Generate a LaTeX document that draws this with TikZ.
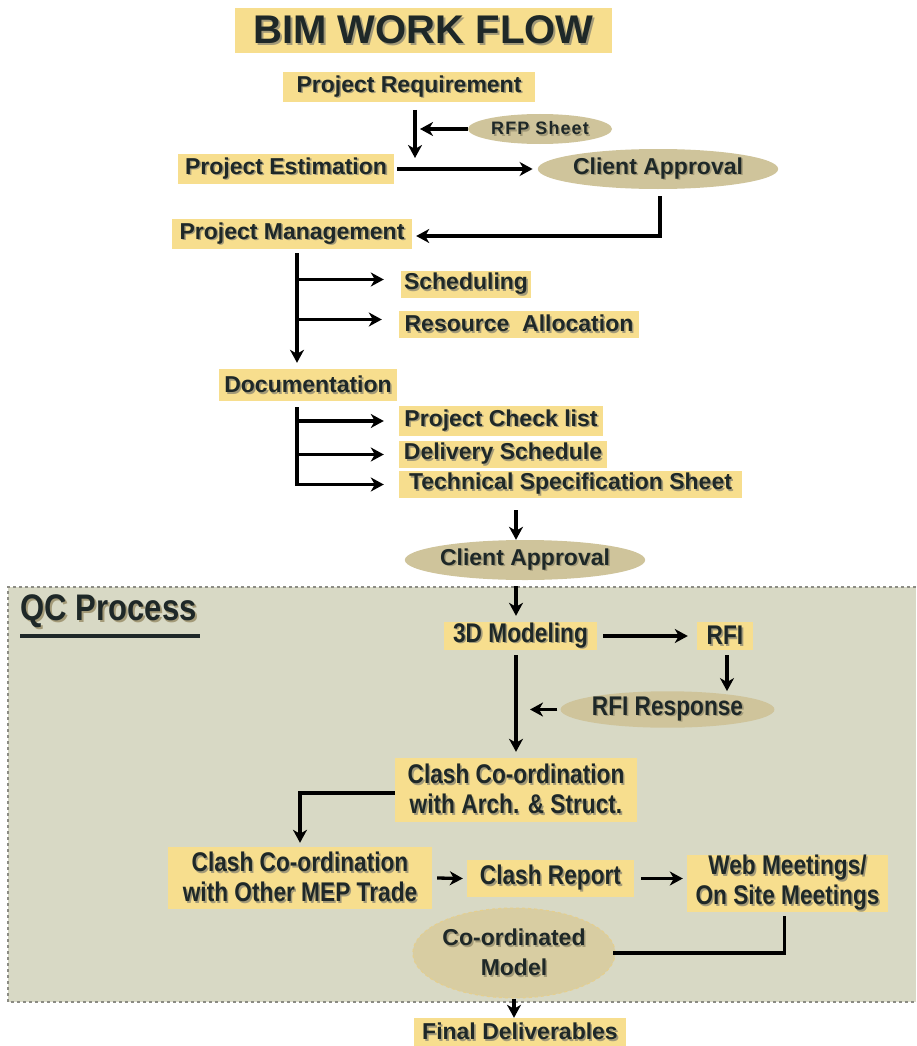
\documentclass[tikz,border=0pt]{standalone}
\usepackage{fontspec}
\setmainfont{Liberation Sans}
\newfontfamily\narrowfont[FakeStretch=0.84]{Liberation Sans}
\usetikzlibrary{shapes.geometric,arrows.meta}
\definecolor{yel}{HTML}{F7DE8E}
\definecolor{tanc}{HTML}{CFC49B}
\definecolor{tanl}{HTML}{D8CDA2}
\definecolor{tanb}{HTML}{E6CF8C}
\definecolor{qcbg}{HTML}{D8D9C5}
\definecolor{txt}{HTML}{1E2828}
\definecolor{shc}{HTML}{A39A78}
\definecolor{dashc}{HTML}{8C8C84}
\newcommand\shd[1]{\rlap{\kern1.6pt\raisebox{-1.6pt}{\color{shc}#1}}#1}
\tikzset{
  box/.style={fill=yel, text=txt, inner sep=0pt, align=center},
  oval/.style={ellipse, fill=tanc, text=txt, inner sep=0pt, align=center},
  f23/.style={font=\fontsize{23}{30}\selectfont\bfseries},
  nar/.style={font=\narrowfont\fontsize{27}{30}\selectfont\bfseries},
  arr/.style={line width=3.3pt, -{Stealth[length=13pt,width=14pt,inset=4pt]}},
  ln/.style={line width=3.3pt},
}
\begin{document}
\begin{tikzpicture}[x=1pt,y=-1pt]
\useasboundingbox (0,0) rectangle (916,1046);
% QC background
\fill[qcbg] (8,587) rectangle (916,1002);
\draw[dashc, dashed, line width=1.5pt] (916,587) -- (8,587) -- (8,1002) -- (916,1002);
\node[anchor=west, text=txt, font=\narrowfont\fontsize{37}{40}\selectfont\bfseries] (qct) at (17,612) {\shd{QC Process}};
\draw[txt, line width=3.5pt] (20,636) -- (200,636);

% upper part
\node[box, minimum width=377pt, minimum height=45pt, font=\fontsize{40}{44}\selectfont\bfseries] (title) at (423.5,30.5) {\shd{BIM WORK FLOW}};
\node[box, f23, minimum width=252pt, minimum height=30pt] (req) at (409,87) {\shd{Project Requirement}};
\node[oval, minimum width=144pt, minimum height=30pt, font=\fontsize{18}{21}\selectfont\bfseries\addfontfeatures{LetterSpace=6}] (rfp) at (540,129) {\shd{RFP Sheet}};
\node[box, f23, minimum width=216pt, minimum height=30pt] (est) at (286,169) {\shd{Project Estimation}};
\node[oval, f23, minimum width=230pt, minimum height=40pt] (ca1) at (658,169) {\shd{Client Approval}};
\node[box, f23, minimum width=240pt, minimum height=30pt] (pm) at (292,234) {\shd{Project Management}};
\node[box, f23, minimum width=130pt, minimum height=27pt] (sch) at (466,284.5) {\shd{Scheduling}};
\node[box, f23, minimum width=240pt, minimum height=27pt] (res) at (519,324.5) {\shd{Resource\ \ Allocation}};
\node[box, f23, minimum width=178pt, minimum height=32pt] (doc) at (308,385) {\shd{Documentation}};
\node[box, f23, minimum width=204pt, minimum height=30pt] (chk) at (501,421) {\shd{Project Check list}};
\node[box, f23, minimum width=208pt, minimum height=27pt] (del) at (503,454.5) {\shd{Delivery Schedule}};
\node[box, f23, minimum width=343pt, minimum height=27pt] (tech) at (570.5,484.5) {\shd{Technical Specification Sheet}};
\node[oval, f23, minimum width=230pt, minimum height=40pt] (ca2) at (525,560) {\shd{Client Approval}};

\coordinate (a1) at (415,110);
\coordinate (a2) at (415,158);
\draw[arr] (a1) -- (a2);
\draw[arr] (rfp.west) -- ([xshift=5pt]a1 |- rfp.west);
\draw[arr] ([xshift=3pt]est.east) -- ([xshift=-5pt]est.east -| ca1.west);
\draw[arr] ([xshift=2pt,yshift=-7pt]ca1.south) |- ([xshift=4pt,yshift=-2pt]pm.east);

\coordinate (pmd) at (297,253);
\draw[arr] (pmd) -- ([yshift=6pt]doc.north -| pmd);
\draw[arr] ([yshift=5pt]pmd |- sch.west) -- ([xshift=-17pt,yshift=5pt]sch.west);
\draw[arr] ([yshift=5pt]pmd |- res.west) -- ([xshift=-17pt,yshift=5pt]res.west);

\coordinate (dd) at (297,407);
\draw[arr] (dd) |- ([xshift=-15pt]tech.west);
\draw[arr] (dd |- chk.west) -- ([xshift=-15pt]chk.west);
\draw[arr] (dd |- del.west) -- ([xshift=-15pt]del.west);

\coordinate (t1) at (516,510);
\draw[arr] (t1) -- (t1 |- ca2.north);

% QC part
\node[box, nar, minimum width=153pt, minimum height=28pt] (m3d) at (520.5,636) {\shd{3D Modeling}};
\node[box, nar, minimum width=56pt, minimum height=28pt] (rfi) at (725,636) {\shd{RFI}};
\node[oval, nar, minimum width=189pt, minimum height=35pt] (rfir) at (667.5,709.5) {\shd{RFI Response}};
\node[box, nar, minimum width=242pt, minimum height=64pt] (cc1) at (516,790) {\shd{Clash Co-ordination}\\\shd{with Arch. \& Struct.}};
\node[box, nar, minimum width=264pt, minimum height=62pt] (cc2) at (300,878) {\shd{Clash Co-ordination}\\\shd{with Other MEP Trade}};
\node[box, nar, minimum width=167pt, minimum height=37pt] (crep) at (550.5,878.5) {\shd{Clash Report}};
\node[box, nar, minimum width=201pt, minimum height=57pt] (web) at (787.5,883.5) {\shd{Web Meetings/}\\\shd{On Site Meetings}};
\node[oval, f23, fill=tanl, draw=tanb, dashed, line width=1pt, minimum width=186pt, minimum height=90pt] (com) at (514,953) {\shd{Co-ordinated}\\\shd{Model}};
\node[box, f23, minimum width=212pt, minimum height=28pt] (fin) at (520,1032) {\shd{Final Deliverables}};

\coordinate (b1) at (516,586);
\draw[arr] (b1) -- ([yshift=6pt]m3d.north -| b1);
\draw[arr] ([xshift=6pt]m3d.east) -- ([xshift=-9pt]rfi.west);
\draw[arr] ([xshift=2pt,yshift=-5pt]rfi.south) -- ([xshift=2pt]rfi.south |- rfir.north);
\draw[arr] ([xshift=-3pt]rfir.west) -- ([xshift=14pt]b1 |- rfir.west);
\draw[arr] ([yshift=-5pt]m3d.south -| cc1) -- ([yshift=6pt]cc1.north);
\draw[arr] ([yshift=-3pt]cc1.west) -| ([yshift=4pt]cc2.north);
\draw[arr] ([xshift=5pt]cc2.east) -- ([xshift=-4pt]crep.west);
\draw[arr] ([xshift=7pt]crep.east) -- ([xshift=-4pt]crep.east -| web.west);
\draw[ln] ([xshift=-3pt,yshift=-4pt]web.south) |- ([xshift=-3pt]com.east);
\draw[arr] (com.south) -- (com.south |- fin.north);
\end{tikzpicture}
\end{document}
